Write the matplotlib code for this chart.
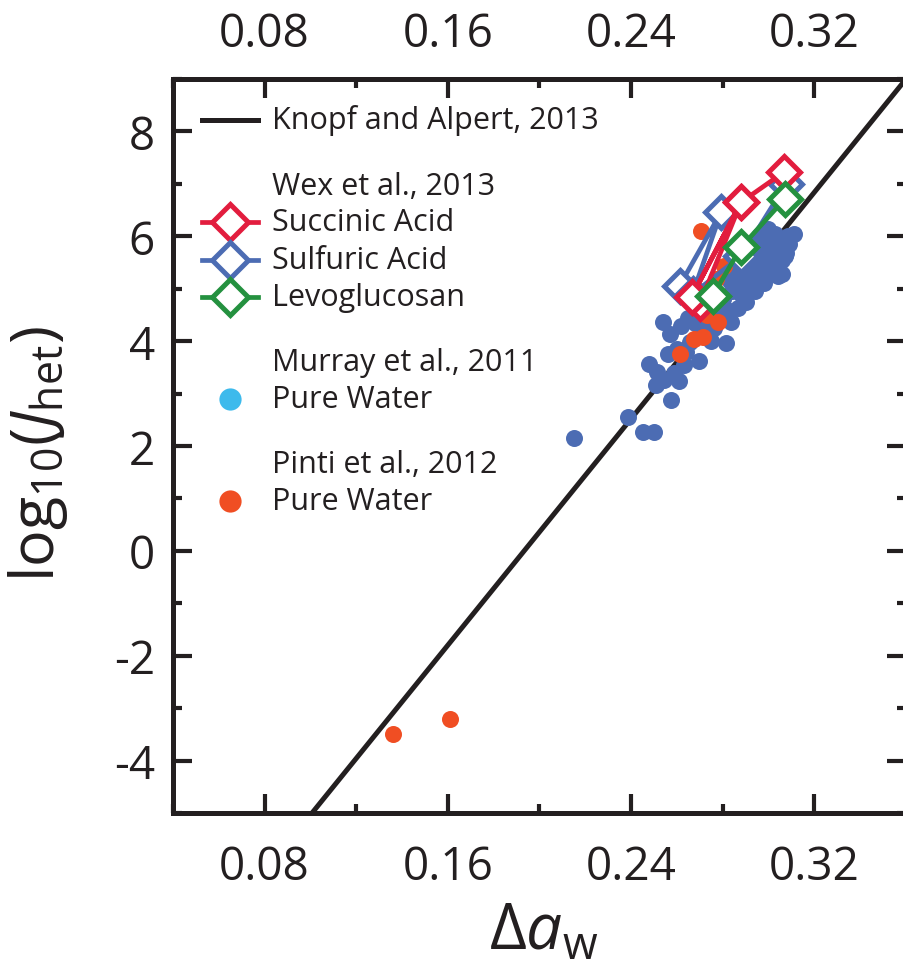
import matplotlib
matplotlib.use('Agg')
import matplotlib.pyplot as plt
from matplotlib.lines import Line2D
from matplotlib.ticker import MultipleLocator

plt.rcParams['font.family'] = ['Open Sans', 'DejaVu Sans']
plt.rcParams['mathtext.fontset'] = 'custom'
plt.rcParams['mathtext.rm'] = 'Open Sans'
plt.rcParams['mathtext.it'] = 'Open Sans:italic'

# Knopf and Alpert (2013) parameterisation, end points
knopf_x = [0.1007, 0.3600]
knopf_y = [-5.0, 9.0]

# Wex et al. (2013)
succinic_x = [0.2700, 0.2880, 0.2665, 0.2880, 0.3069]
succinic_y = [4.72, 6.65, 4.85, 6.65, 7.23]
sulfuric_x = [0.2612, 0.2793, 0.2668, 0.2880, 0.3077]
sulfuric_y = [5.06, 6.46, 4.90, 5.62, 7.00]
levo_x = [0.2757, 0.2880, 0.3070]
levo_y = [4.87, 5.79, 6.71]

# Murray et al. (2011), pure water
murray_x = [0.215, 0.2386, 0.2451, 0.2502, 0.2575, 0.251, 0.2545, 0.261, 0.248,
            0.2515, 0.256, 0.2589, 0.2630, 0.2697, 0.2815, 0.2539, 0.2568, 0.2619,
            0.2655, 0.2600, 0.2640, 0.275, 0.2700, 0.2680, 0.2720, 0.2760, 0.2837,
            0.2866, 0.2790, 0.2650, 0.2700,
            0.277, 0.280, 0.282, 0.284, 0.283, 0.285, 0.286, 0.288, 0.290, 0.290,
            0.292, 0.289, 0.291, 0.293, 0.294, 0.295, 0.296, 0.298, 0.294, 0.297,
            0.298, 0.296, 0.292, 0.300, 0.299, 0.301, 0.301, 0.302, 0.303, 0.2997,
            0.304, 0.305, 0.306, 0.306, 0.307, 0.3077, 0.3084, 0.311, 0.309]
murray_y = [2.16, 2.56, 2.27, 2.27, 2.88, 3.16, 3.25, 3.24, 3.56,
            3.41, 3.75, 3.40, 3.55, 3.63, 3.96, 4.37, 4.14, 4.29,
            3.98, 3.85, 3.80, 4.01, 4.10, 4.35, 4.30, 4.25, 4.36,
            4.64, 4.45, 4.45, 4.55,
            4.70, 4.80, 4.60, 4.95, 5.15, 5.30, 5.10, 4.90, 4.75, 5.20,
            5.00, 5.40, 5.55, 5.30, 4.95, 5.60, 5.15, 5.10, 5.80, 5.45,
            5.95, 6.00, 5.85, 5.70, 5.25, 5.50, 5.30, 5.90, 6.05, 6.14,
            5.25, 5.75, 5.55, 5.28, 5.63, 5.69, 6.01, 6.04, 5.85]

# Pinti et al. (2012), pure water
pinti_x = [0.136, 0.161, 0.2706, 0.2612, 0.2676, 0.2715, 0.278, 0.273, 0.2807, 0.277]
pinti_y = [-3.50, -3.20, 6.11, 3.75, 4.05, 4.07, 4.36, 4.49, 5.44, 5.18]

xticks = [0.08, 0.16, 0.24, 0.32]
xticklabels = ['0.08', '0.16', '0.24', '0.32']
yticks = [-4, -2, 0, 2, 4, 6, 8]
yticklabels = ['-4', '-2', '0', '2', '4', '6', '8']

black = '#231f20'
red = '#e21d3e'
blue = '#4c6cb3'
green = '#24913f'
orange = '#f04e23'
lightblue = '#3dbaec'

W, H = 904, 970
fig = plt.figure(figsize=(W / 100, H / 100), dpi=100)
ax = fig.add_axes([173 / W, 1 - 814 / H, 733 / W, 734 / H])

ax.plot(knopf_x, knopf_y, color=black, lw=3.6, zorder=1, solid_capstyle='butt')
ax.scatter(murray_x, murray_y, s=150, color=blue, lw=0, zorder=2)
ax.scatter(pinti_x, pinti_y, s=150, color=orange, lw=0, zorder=3)

dkw = dict(marker='D', ms=16.5, mew=3.6, mfc='white', lw=3.4)
ax.plot(sulfuric_x, sulfuric_y, color=blue, zorder=5, **dkw)
ax.plot(succinic_x, succinic_y, color=red, zorder=6, **dkw)
ax.plot(levo_x, levo_y, color=green, zorder=7, **dkw)

ax.set_xlim(0.04, 0.36)
ax.set_ylim(-5, 9)
ax.set_xticks(xticks)
ax.set_xticklabels(xticklabels)
ax.set_yticks(yticks)
ax.set_yticklabels(yticklabels)
ax.xaxis.set_minor_locator(MultipleLocator(0.04))
ax.yaxis.set_minor_locator(MultipleLocator(1))
ax.tick_params(which='both', direction='in', top=True, right=True, width=3,
               color=black, labelsize=33, labelcolor=black)
ax.tick_params(which='major', length=14)
ax.tick_params(which='minor', length=6.5)
ax.tick_params(axis='x', pad=22)
ax.tick_params(axis='y', pad=13)
for sp in ax.spines.values():
    sp.set_linewidth(3.6)
    sp.set_color(black)

# labels along the top edge
top = ax.secondary_xaxis('top')
top.set_xticks(xticks)
top.set_xticklabels(xticklabels)
top.tick_params(length=0, pad=16, labelsize=33, labelcolor=black)
top.spines['top'].set_visible(False)

ax.set_ylabel(r'log$_{10}$($J_{\rm het}$)', fontsize=44, color=black)
ax.yaxis.set_label_coords(-0.141, 0.49)
ax.set_xlabel('Δ$a_{\\rm w}$', fontsize=46, color=black)
ax.xaxis.set_label_coords(0.505, -0.118)

# legend drawn by hand, in pixel positions of the figure
lx0, lx1, tx = 202, 258, 272
lxc = (lx0 + lx1) / 2
fs = 22

def row(y, text):
    fig.text(tx / W, 1 - y / H, text, fontsize=fs, color=black, va='center', ha='left')

fig.add_artist(Line2D([lx0 / W, lx1 / W], [1 - 121 / H] * 2, color=black, lw=3.6))
row(121, 'Knopf and Alpert, 2013')
row(187, 'Wex et al., 2013')
for y, c, t in [(223, red, 'Succinic Acid'), (261, blue, 'Sulfuric Acid'),
                (298, green, 'Levoglucosan')]:
    fig.add_artist(Line2D([lx0 / W, lx1 / W], [1 - y / H] * 2, color=c, lw=3.4))
    fig.add_artist(Line2D([lxc / W], [1 - y / H], color=c, marker='D',
                          ms=18.5, mew=3.6, mfc='white'))
    row(y, t)
row(363, 'Murray et al., 2011')
fig.add_artist(Line2D([lxc / W], [1 - 400 / H], color=lightblue,
                      marker='o', ms=16, mew=0, lw=0))
row(400, 'Pure Water')
row(465, 'Pinti et al., 2012')
fig.add_artist(Line2D([lxc / W], [1 - 502 / H], color=orange,
                      marker='o', ms=16, mew=0, lw=0))
row(502, 'Pure Water')

fig.savefig('out.png', dpi=100)
